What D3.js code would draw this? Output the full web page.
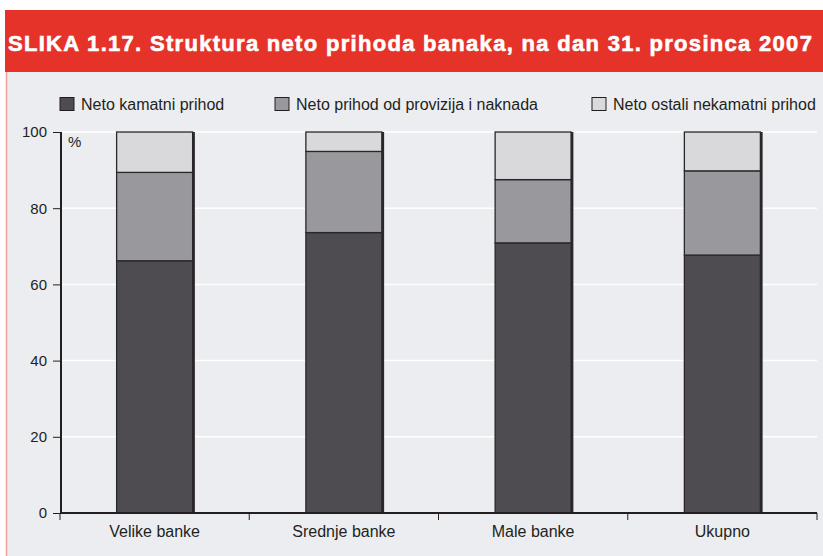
<!DOCTYPE html>
<meta charset="utf-8">
<title>Struktura neto prihoda banaka</title>
<style>
body { margin: 0; background: #fff; }
svg text { font-family: "Liberation Sans", Arial, sans-serif; }
</style>
<body>
<svg width="823" height="556" id="svg"></svg>
<script src="https://d3js.org/d3.v7.min.js"></script>
<script>

var categories = ["Velike banke", "Srednje banke", "Male banke", "Ukupno"];
var seriesNames = ["Neto kamatni prihod", "Neto prihod od provizija i naknada", "Neto ostali nekamatni prihod"];
var kamatni   = [66.2, 73.6, 70.9, 67.7];
var provizije = [23.2, 21.3, 16.6, 22.1];
var ostali    = [10.6, 5.1, 12.5, 10.2];
var yTicks = [0, 20, 40, 60, 80, 100];
var colors = ["#4e4c51", "#99989c", "#d9d9db"];

var svg = d3.select("svg"),
    width = +svg.attr("width"),
    height = +svg.attr("height");

// panel background + title bar
svg.append("rect").attr("x", 6).attr("y", 72).attr("width", width - 6).attr("height", height - 72)
    .attr("fill", "#ecedf0");
svg.append("line").attr("x1", 6.5).attr("x2", 6.5).attr("y1", 72).attr("y2", height)
    .attr("stroke", "#f0a09a").attr("stroke-width", 1.5);
svg.append("rect").attr("x", 5).attr("y", 10).attr("width", width - 5).attr("height", 62)
    .attr("fill", "#e5332a");
svg.append("text").attr("x", 8).attr("y", 51)
    .attr("fill", "#fff").attr("font-size", 22).attr("font-weight", "bold")
    .attr("letter-spacing", 1.3)
    .attr("stroke", "#fff").attr("stroke-width", 0.6)
    .text("SLIKA 1.17. Struktura neto prihoda banaka, na dan 31. prosinca 2007");

var table = categories.map(function(c, i) {
  return { cat: c, k: kamatni[i], p: provizije[i], o: ostali[i] };
});
var stacked = d3.stack().keys(["k", "p", "o"])(table);

var x = d3.scaleBand().domain(categories).range([60, 817]).paddingInner(0).paddingOuter(0);
var y = d3.scaleLinear().domain([0, 100]).range([513, 132]);
var barW = 76;

// gridlines
svg.append("g").selectAll("line").data(yTicks.filter(function(d) { return d > 0; }))
  .enter().append("line")
    .attr("x1", 61).attr("x2", 817)
    .attr("y1", function(d) { return y(d); }).attr("y2", function(d) { return y(d); })
    .attr("stroke", "#fff").attr("stroke-width", 1.5);

// bars
var layers = svg.append("g").selectAll("g").data(stacked).enter().append("g")
    .attr("fill", function(d, i) { return colors[i]; });
layers.selectAll("rect").data(function(d) { return d; }).enter().append("rect")
    .attr("x", function(d) { return x(d.data.cat) + x.bandwidth() / 2 - barW / 2; })
    .attr("y", function(d) { return y(d[1]); })
    .attr("width", barW)
    .attr("height", function(d) { return y(d[0]) - y(d[1]); })
    .attr("stroke", "#2a272b").attr("stroke-width", 1.3);
// right shadow edge
svg.append("g").selectAll("line").data(table).enter().append("line")
    .attr("x1", function(d) { return x(d.cat) + x.bandwidth() / 2 + barW / 2 + 1; })
    .attr("x2", function(d) { return x(d.cat) + x.bandwidth() / 2 + barW / 2 + 1; })
    .attr("y1", y(100)).attr("y2", y(0))
    .attr("stroke", "#2a272b").attr("stroke-width", 2.5);

// y axis
var yAxis = svg.append("g").attr("transform", "translate(61,0)")
    .call(d3.axisLeft(y).tickValues(yTicks).tickSize(8).tickPadding(6));
yAxis.select(".domain").attr("stroke", "#231f20").attr("stroke-width", 2)
    .attr("d", "M0," + y(100) + "V" + y(0));
yAxis.selectAll(".tick line").attr("stroke", "#231f20");
yAxis.selectAll("text").attr("font-size", 15).attr("fill", "#231f20")
    .attr("font-family", "Liberation Sans, Arial, sans-serif");

svg.append("text").attr("x", 68).attr("y", 147).attr("font-size", 15).attr("fill", "#231f20").text("%");

// x axis
var xAxis = svg.append("g").attr("transform", "translate(0," + y(0) + ")");
xAxis.append("line").attr("x1", 60).attr("x2", 817).attr("stroke", "#231f20").attr("stroke-width", 2);
xAxis.selectAll(".sep").data(categories.concat(["end"])).enter().append("line")
    .attr("x1", function(d, i) { return i < categories.length ? x(d) : 817; })
    .attr("x2", function(d, i) { return i < categories.length ? x(d) : 817; })
    .attr("y1", 0).attr("y2", 7).attr("stroke", "#231f20");
xAxis.selectAll(".lab").data(categories).enter().append("text")
    .attr("x", function(d) { return x(d) + x.bandwidth() / 2; })
    .attr("y", 24).attr("text-anchor", "middle").attr("font-size", 16).attr("fill", "#231f20")
    .text(function(d) { return d; });

// legend
var legX = [60, 275, 592];
var leg = svg.append("g").selectAll("g").data(seriesNames).enter().append("g")
    .attr("transform", function(d, i) { return "translate(" + legX[i] + ",97.5)"; });
leg.append("rect").attr("width", 14).attr("height", 13)
    .attr("fill", function(d, i) { return colors[i]; })
    .attr("stroke", "#231f20").attr("stroke-width", 1);
leg.append("text").attr("x", 21).attr("y", 12.5).attr("font-size", 16).attr("fill", "#231f20")
    .text(function(d) { return d; });

</script>
</body>
